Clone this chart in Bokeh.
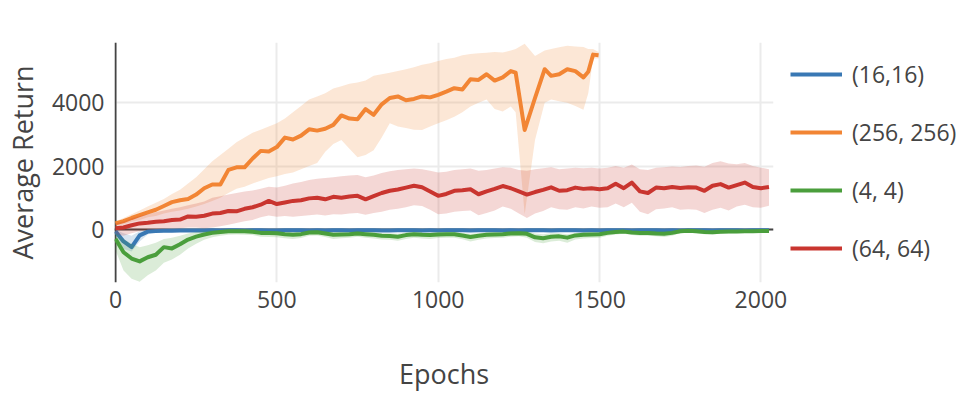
from bokeh.plotting import figure
from bokeh.models import Range1d, Legend, LegendItem, FixedTicker
from bokeh.layouts import row
from bokeh.embed import file_html
from bokeh.resources import INLINE

# ---------------- data ----------------
epochs = [0, 25, 50, 75, 100, 125, 150, 175, 200, 225, 250, 275, 300, 325, 350, 375,
          400, 425, 450, 475, 500, 525, 550, 575, 600, 625, 650, 675, 700, 725, 750, 775,
          800, 825, 850, 875, 900, 925, 950, 975, 1000, 1025, 1050, 1075, 1100, 1125, 1150, 1175,
          1200, 1225, 1250, 1275, 1300, 1325, 1350, 1375, 1400, 1425, 1450, 1475, 1500, 1525, 1550, 1575,
          1600, 1625, 1650, 1675, 1700, 1725, 1750, 1775, 1800, 1825, 1850, 1875, 1900, 1925, 1950, 1975,
          2000, 2025]

# (16,16)
blue_mean = [-60, -380, -560, -190, -70, -50, -45, -40, -38, -35, -33, -32, -30, -31, -29, -30,
             -32, -30, -28, -31, -33, -30, -29, -30, -31, -30, -32, -30, -29, -31, -30, -28,
             -30, -32, -31, -30, -29, -30, -31, -30, -32, -30, -29, -30, -31, -30, -30, -29,
             -31, -30, -32, -30, -29, -30, -31, -30, -30, -29, -31, -30, -32, -30, -29, -30,
             -31, -30, -30, -29, -31, -30, -32, -30, -29, -30, -31, -30, -30, -29, -31, -30,
             -30, -30]
blue_upper = [0, -120, -200, -60, -20, -15, -14, -13, -12, -12, -12, -12, -12, -12, -12, -12,
              -12, -12, -12, -12, -12, -12, -12, -12, -12, -12, -12, -12, -12, -12, -12, -12,
              -12, -12, -12, -12, -12, -12, -12, -12, -12, -12, -12, -12, -12, -12, -12, -12,
              -12, -12, -12, -12, -12, -12, -12, -12, -12, -12, -12, -12, -12, -12, -12, -12,
              -12, -12, -12, -12, -12, -12, -12, -12, -12, -12, -12, -12, -12, -12, -12, -12,
              -12, -12]
blue_lower = [-160, -620, -700, -380, -160, -100, -80, -70, -60, -55, -52, -50, -50, -50, -50, -50,
              -52, -50, -50, -50, -52, -50, -50, -50, -52, -50, -50, -50, -52, -50, -50, -50,
              -52, -50, -50, -50, -52, -50, -50, -50, -52, -50, -50, -50, -52, -50, -50, -50,
              -52, -50, -50, -50, -52, -50, -50, -50, -52, -50, -50, -50, -52, -50, -50, -50,
              -52, -50, -50, -50, -52, -50, -50, -50, -52, -50, -50, -50, -52, -50, -50, -50,
              -50, -50]

# (256, 256)
orange_x = [0, 25, 50, 75, 100, 125, 150, 175, 200, 225, 250, 275, 300, 325, 350, 375,
            400, 425, 450, 475, 500, 525, 550, 575, 600, 625, 650, 675, 700, 725, 750, 775,
            800, 825, 850, 875, 900, 925, 950, 975, 1000, 1025, 1050, 1075, 1100, 1125, 1150, 1175,
            1200, 1225, 1240, 1268, 1300, 1330, 1350, 1375, 1400, 1425, 1450, 1465, 1480, 1497]
orange_mean = [190, 260, 360, 450, 540, 620, 740, 860, 920, 960, 1100, 1300, 1420, 1420, 1880, 1960,
               1960, 2240, 2480, 2460, 2600, 2900, 2840, 2960, 3160, 3120, 3180, 3300, 3600, 3500, 3480, 3800,
               3620, 3950, 4150, 4200, 4080, 4120, 4200, 4170, 4250, 4350, 4460, 4420, 4740, 4720, 4900, 4700,
               4800, 5000, 4950, 3140, 4150, 5060, 4850, 4900, 5060, 5000, 4800, 4980, 5520, 5500]
orange_upper = [260, 360, 480, 600, 720, 840, 960, 1120, 1250, 1450, 1650, 1900, 2150, 2350, 2550, 2750,
                2900, 3050, 3150, 3250, 3350, 3500, 3700, 3900, 4100, 4200, 4300, 4450, 4520, 4600, 4640, 4700,
                4850, 4900, 4950, 5000, 5060, 5120, 5200, 5250, 5320, 5380, 5420, 5500, 5540, 5560, 5580, 5600,
                5590, 5650, 5700, 5860, 5480, 5650, 5700, 5750, 5800, 5780, 5760, 5700, 5700, 5600]
orange_lower = [120, 160, 240, 300, 380, 420, 500, 560, 600, 650, 720, 800, 900, 1000, 1150, 1280,
                1350, 1450, 1540, 1620, 1680, 1750, 1800, 1900, 2000, 2100, 2450, 2700, 2820, 2550, 2280, 2350,
                2500, 2900, 3350, 3250, 3200, 3150, 3140, 3250, 3350, 3450, 3560, 3700, 3880, 4000, 4100, 3800,
                3720, 3880, 3700, 480, 2820, 4000, 4100, 4050, 4000, 3900, 3780, 4300, 5400, 5400]

# (4, 4)
green_mean = [-300, -720, -920, -1010, -880, -800, -560, -600, -470, -320, -230, -160, -110, -80, -60, -55,
              -60, -75, -110, -115, -120, -150, -170, -150, -100, -90, -130, -170, -160, -150, -130, -150,
              -170, -200, -210, -230, -180, -150, -170, -180, -160, -150, -150, -190, -240, -200, -170, -160,
              -150, -130, -120, -140, -250, -280, -230, -220, -260, -190, -170, -160, -150, -110, -80, -70,
              -100, -110, -110, -130, -140, -110, -60, -45, -60, -80, -90, -75, -70, -65, -60, -55,
              -50, -50]
green_upper = [-100, -300, -450, -560, -500, -420, -300, -260, -200, -130, -80, -50, -30, -20, -10, -5,
               -10, -20, -40, -50, -60, -80, -90, -80, -40, -30, -60, -90, -90, -80, -60, -80,
               -90, -110, -120, -140, -100, -80, -90, -100, -90, -80, -80, -110, -140, -120, -90, -80,
               -80, -60, -50, -60, -130, -150, -120, -120, -150, -110, -90, -80, -80, -50, -30, -20,
               -40, -50, -50, -60, -70, -50, -20, -10, -20, -30, -40, -30, -25, -20, -20, -15,
               -15, -15]
green_lower = [-650, -1300, -1560, -1650, -1450, -1300, -1050, -950, -800, -600, -450, -330, -250, -200, -170, -160,
               -170, -180, -230, -240, -250, -280, -300, -270, -200, -190, -240, -300, -280, -260, -230, -260,
               -290, -320, -330, -360, -300, -260, -290, -300, -270, -260, -260, -310, -380, -330, -290, -270,
               -260, -230, -220, -260, -400, -440, -380, -360, -420, -320, -290, -270, -260, -200, -160, -140,
               -180, -200, -200, -220, -240, -200, -120, -100, -120, -150, -160, -140, -130, -120, -115, -110,
               -100, -100]

# (64, 64)
red_mean = [40, 60, 130, 190, 210, 240, 260, 300, 310, 410, 400, 430, 500, 520, 580, 570,
            650, 700, 780, 900, 800, 850, 900, 920, 980, 1000, 950, 1030, 1000, 1040, 1060, 950,
            1050, 1150, 1220, 1260, 1320, 1380, 1330, 1200, 1060, 1120, 1220, 1240, 1270, 1110, 1200, 1280,
            1370, 1300, 1200, 1100, 1180, 1250, 1330, 1220, 1240, 1320, 1280, 1300, 1270, 1300, 1440, 1300,
            1480, 1200, 1150, 1320, 1300, 1340, 1310, 1330, 1320, 1220, 1380, 1430, 1320, 1400, 1480, 1340,
            1300, 1340]
red_upper = [200, 250, 350, 420, 480, 540, 600, 650, 700, 760, 820, 880, 1000, 1050, 1100, 1150,
             1200, 1230, 1280, 1350, 1320, 1380, 1450, 1500, 1560, 1600, 1620, 1650, 1680, 1700, 1720, 1650,
             1700, 1780, 1840, 1880, 1900, 1920, 1900, 1850, 1800, 1820, 1880, 1900, 1920, 1850, 1880, 1920,
             1960, 1950, 1880, 1850, 1900, 1930, 1960, 1900, 1920, 1950, 1930, 1950, 1920, 1950, 2000, 1950,
             2050, 1900, 1880, 1950, 1960, 1990, 1970, 2000, 2020, 1980, 2100, 2150, 2080, 2060, 2100, 2000,
             1950, 1900]
red_lower = [-150, -200, -120, -60, -20, 0, 20, 40, 40, 60, 60, 40, 60, 100, 150, 200,
             260, 300, 380, 440, 400, 420, 400, 420, 450, 470, 440, 480, 470, 500, 520, 460,
             520, 560, 620, 650, 700, 760, 740, 620, 480, 500, 560, 580, 600, 450, 520, 600,
             720, 650, 500, 360, 500, 580, 700, 640, 620, 700, 660, 720, 680, 700, 820, 700,
             840, 560, 480, 640, 660, 700, 620, 640, 620, 520, 620, 680, 600, 720, 780, 700,
             680, 750]

series_names = ["(16,16)", "(256, 256)", "(4, 4)", "(64, 64)"]
series_colors = ["#3978b4", "#f28534", "#4a9e3c", "#c9352f"]
x_ticks = [0, 500, 1000, 1500, 2000]
y_ticks = [0, 2000, 4000]
x_title = "Epochs"
y_title = "Average Return"

FONT = "Open Sans"
TXT = "#444444"

# ---------------- main plot ----------------
p = figure(width=790, height=398, output_backend="svg", toolbar_location=None,
           x_range=Range1d(-3, 2039), y_range=Range1d(-1677, 5903),
           min_border_left=105, min_border_right=17, min_border_top=42, min_border_bottom=116)
p.outline_line_color = None
p.background_fill_color = "white"
p.border_fill_color = "white"

for ax in (p.xaxis[0], p.yaxis[0]):
    ax.axis_line_color = None
    ax.major_tick_line_color = None
    ax.minor_tick_line_color = None
    ax.major_label_text_font = FONT
    ax.major_label_text_font_size = "23px"
    ax.major_label_text_color = TXT
    ax.axis_label_text_font = FONT
    ax.axis_label_text_font_size = "27px"
    ax.axis_label_text_font_style = "normal"
    ax.axis_label_text_color = TXT
p.xaxis.ticker = FixedTicker(ticks=x_ticks)
p.yaxis.ticker = FixedTicker(ticks=y_ticks)
p.xaxis.major_label_standoff = 2
p.yaxis.major_label_standoff = 4
p.xaxis.axis_label = x_title
p.xaxis.axis_label_standoff = 44
p.yaxis.axis_label = y_title
p.yaxis.axis_label_standoff = 8

p.xgrid.grid_line_color = "#ebebeb"
p.ygrid.grid_line_color = "#ebebeb"
p.xgrid.grid_line_width = 2
p.ygrid.grid_line_width = 2

# zero lines
p.vspan(x=[x_ticks[0]], line_color=TXT, line_width=2)
p.hspan(y=[y_ticks[0]], line_color=TXT, line_width=2)

data = [
    (epochs, blue_mean, blue_upper, blue_lower),
    (orange_x, orange_mean, orange_upper, orange_lower),
    (epochs, green_mean, green_upper, green_lower),
    (epochs, red_mean, red_upper, red_lower),
]
for (xs, m, up, lo), col in zip(data, series_colors):
    p.varea(x=xs, y1=lo, y2=up, fill_color=col, fill_alpha=0.2)
    p.line(x=xs, y=m, line_color=col, line_width=4, line_join="round")

# ---------------- legend panel (frames of a row are aligned with the main plot) ----------------
lg = figure(width=190, height=398, output_backend="svg", toolbar_location=None,
            x_axis_location=None, y_axis_location=None, min_border=0,
            x_range=Range1d(-2, -1), y_range=Range1d(-1677, 5903))
lg.outline_line_color = None
lg.grid.visible = False
lg.background_fill_color = "white"
lg.border_fill_color = "white"
items = []
for (xs, m, up, lo), name, col in zip(data, series_names, series_colors):
    # same series, outside this panel's range: only its legend swatch is seen
    r = lg.line(x=xs, y=m, line_color=col, line_width=4)
    items.append(LegendItem(label=name, renderers=[r]))

legend = Legend(items=items, location=(0, 18), orientation="vertical",
                glyph_width=52, glyph_height=32, label_height=32, label_standoff=10,
                spacing=26, padding=0, margin=0,
                label_text_font=FONT, label_text_font_size="23px", label_text_color=TXT,
                border_line_color=None, background_fill_alpha=0)
lg.add_layout(legend)

layout = row(p, lg, spacing=0)
open("out.html", "w").write(file_html(layout, INLINE))
